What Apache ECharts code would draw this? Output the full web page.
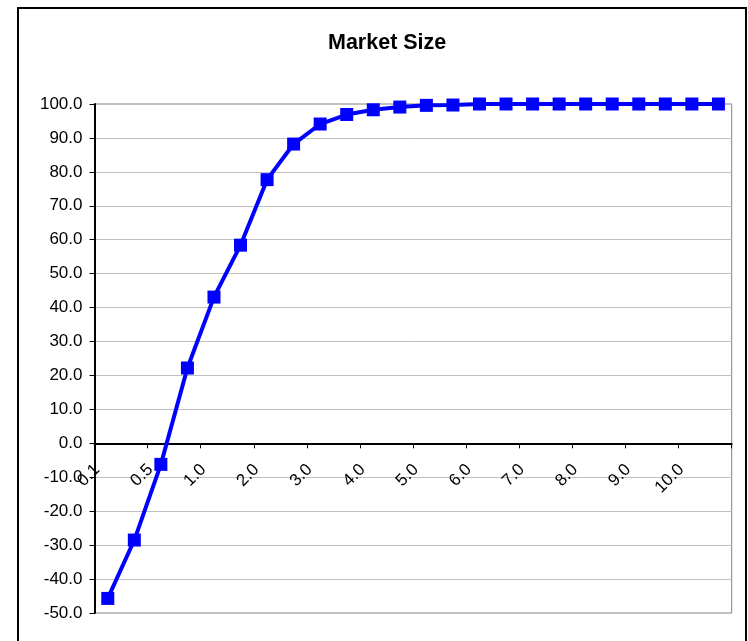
<!DOCTYPE html>
<html><head><meta charset="utf-8">
<script src="https://cdn.jsdelivr.net/npm/echarts@6/dist/echarts.min.js"></script>
<style>html,body{margin:0;padding:0;background:#fff}#c{width:748px;height:641px}</style>
</head><body><div id="c"></div>
<script>
const categories = ['0.1','0.3','0.5','0.8','1.0','1.5','2.0','2.5','3.0','3.5','4.0','4.5','5.0','5.5','6.0','6.5','7.0','7.5','8.0','8.5','9.0','9.5','10.0','10.5'];
const marketSize = [-45.7,-28.5,-6.2,22.2,43.1,58.4,77.7,88.2,94.1,96.9,98.3,99.1,99.6,99.7,100.0,100.0,100.0,100.0,100.0,100.0,100.0,100.0,100.0,100.0];
const yTicks = {min:-50, max:100, interval:10};
const titleText = 'Market Size';

const font = 'Liberation Sans, Arial, sans-serif';
const gridTop = 104, gridBottom = 28, H = 641;
const plotH = H - gridTop - gridBottom;
const zeroOffset = -plotH * (0 - yTicks.min) / (yTicks.max - yTicks.min);
const chart = echarts.init(document.getElementById('c'), null, {renderer:'canvas'});
chart.setOption({
  animation:false,
  backgroundColor:'#fff',
  title:{text:titleText,left:323,top:27,textStyle:{fontFamily:font,fontSize:21.5,fontWeight:'bold',color:'#000'}},
  graphic:[{type:'rect',shape:{x:18,y:8,width:728,height:640},style:{fill:'none',stroke:'#000',lineWidth:2},silent:true,z:-1}],
  grid:{left:94.5,right:16.3,top:gridTop,bottom:gridBottom,show:true,borderColor:'#808080',borderWidth:1,containLabel:false,outerBoundsMode:'none'},
  xAxis:{type:'category',data:categories,boundaryGap:true,position:'bottom',offset:zeroOffset,
    axisLine:{onZero:false,lineStyle:{color:'#000',width:2}},
    axisTick:{show:true,interval:1,length:5,lineStyle:{color:'#000',width:1}},
    axisLabel:{interval:1,rotate:45,margin:13,padding:[0,15,0,0],fontFamily:font,fontSize:17,color:'#000',hideOverlap:false},
    splitLine:{show:false}},
  yAxis:{type:'value',min:yTicks.min,max:yTicks.max,interval:yTicks.interval,
    axisLine:{show:true,onZero:false,lineStyle:{color:'#000',width:2}},
    axisTick:{show:true,length:5,lineStyle:{color:'#000'}},
    axisLabel:{margin:12,fontFamily:font,fontSize:17,color:'#000',formatter:v=>v.toFixed(1)},
    splitLine:{show:true,lineStyle:{color:'#c0c0c0',width:1}}},
  series:[{type:'line',data:marketSize,symbol:'rect',symbolSize:13,
    lineStyle:{color:'#0000ff',width:4},itemStyle:{color:'#0000ff'}}]
});
</script></body></html>
